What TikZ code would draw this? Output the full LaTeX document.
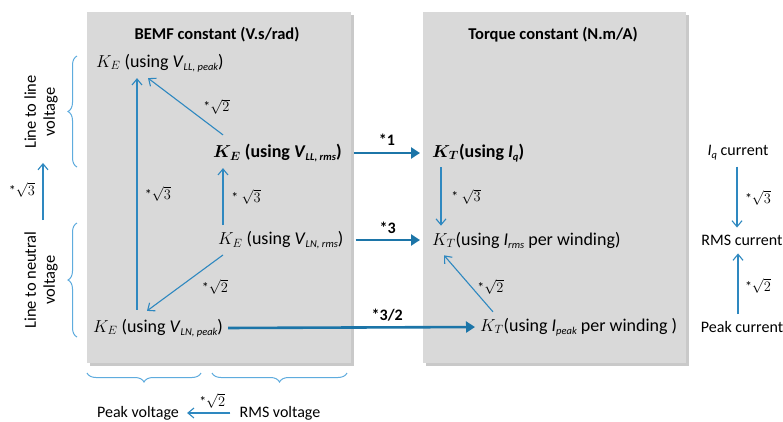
\documentclass[tikz,border=0pt]{standalone}
\usepackage{fontspec}
\setmainfont{Carlito}
\usetikzlibrary{arrows.meta,shadows,decorations.pathreplacing,calc}
\definecolor{thinblue}{RGB}{46,136,192}
\definecolor{thickblue}{RGB}{28,117,168}
\definecolor{bracecol}{RGB}{95,172,222}
\definecolor{boxgray}{RGB}{217,217,217}
\newcommand{\lowsub}[1]{\raisebox{-0.35ex}{\fontsize{10.5}{12}\selectfont\itshape #1}}
\begin{document}
\begin{tikzpicture}[x=1pt,y=-1pt,
  panel/.style={fill=boxgray,draw=none,drop shadow={shadow xshift=2.5pt,shadow yshift=-2.5pt,opacity=0.35,fill=black!60}},
  ttl/.style={font=\fontsize{16.5}{19}\selectfont\bfseries},
  term/.style={font=\fontsize{18}{21}\selectfont,inner sep=1pt,anchor=west},
  side/.style={font=\fontsize{16}{18}\selectfont,inner sep=1pt},
  lside/.style={font=\fontsize{16.5}{19}\selectfont,inner sep=1pt,rotate=90,align=center},
  lbl/.style={font=\fontsize{14}{16}\selectfont,inner sep=1pt},
  blbl/.style={font=\fontsize{16}{18}\selectfont\bfseries,inner sep=1pt},
  thinarr/.style={draw=thinblue,line width=1.1pt,-{Straight Barb[length=6pt,width=10pt]}},
  thickarr/.style={draw=thickblue,line width=2.6pt,-{Triangle[length=9pt,width=11pt]}},
  brc/.style={draw=bracecol,line width=1pt,decorate,decoration={brace,amplitude=9pt}}]
\useasboundingbox (0,0) rectangle (783,421);
\fill[white] (0,0) rectangle (783,421);
\coordinate (xa) at (737,0);
\coordinate (xb) at (738,0);
\coordinate (xc) at (43,0);
% panels
\path[panel] (87,12) rectangle (351,363);
\path[panel] (423,12) rectangle (686,363);
\node[ttl] (t1) at (217,35) {BEMF constant (V.s/rad)};
\node[ttl] (t2) at (553,35) {Torque constant (N.m/A)};
% BEMF terms
\node[term] (kellp) at (95,63) {$K_E$ (using \textit{V}\lowsub{LL, peak})};
\node[term] (kellr) at (212,153) {\bfseries{\boldmath$K_E$} (using \textit{V}\lowsub{LL, rms})};
\node[term] (kelnr) at (217,240) {$K_E$ (using \textit{V}\lowsub{LN, rms})};
\node[term] (kelnp) at (92,328) {$K_E$ (using \textit{V}\lowsub{LN, peak})};
% torque terms
\node[term] (ktq) at (431,153) {\bfseries{\boldmath$K_T$}(using \textit{I}\lowsub{q})};
\node[term] (ktr) at (431,240) {$K_T$(using \textit{I}\lowsub{rms} per winding)};
\node[term] (ktp) at (479,327) {$K_T$(using \textit{I}\lowsub{peak} per winding )};
% currents
\node[side] (iq) at (738,153) {\textit{I}\lowsub{q} current};
\node[side] (rmsc) at (742,240) {RMS current};
\node[side] (pkc) at (742,327) {Peak current};
% voltages bottom
\node[side] (pkv) at (138,413) {Peak voltage};
\node[side] (rmsv) at (280,413) {RMS voltage};
% left side texts
\node[lside] (llv) at (41,112) {Line to line\\voltage};
\node[lside] (lnv) at (41,280) {Line to neutral\\voltage};
% arrows inside BEMF box
\draw[thinarr] ($(kelnp.north west)+(45,-8)$) -- ($(kellp.south west)+(42,5)$)
  node[lbl,midway,xshift=21pt] {*$\sqrt{3}$};
\draw[thinarr] ($(kellr.north west)+(11,-8)$) -- ($(kellp.south west)+(53,5)$)
  node[lbl,midway,xshift=31pt] {*$\sqrt{2}$};
\draw[thinarr] ($(kelnr.north west)+(6,-5)$) -- ($(kellr.south west)+(11,5)$)
  node[lbl,midway,xshift=23pt] {* $\sqrt{3}$};
\draw[thinarr] ($(kelnr.south west)+(6,5)$) -- ($(kelnp.north west)+(55,-7)$)
  node[lbl,midway,xshift=30pt,yshift=-4pt] {*$\sqrt{2}$};
% thick arrows between panels
\draw[thickarr,shorten <=11pt,shorten >=11pt] (kellr.east) -- (ktq.west)
  node[blbl,midway,yshift=13pt] {*1};
\draw[thickarr,shorten <=11pt,shorten >=11pt] (kelnr.east) -- (ktr.west)
  node[blbl,midway,yshift=12pt] {*3};
\draw[thickarr,shorten <=4pt,shorten >=4pt] (kelnp.east) -- (ktp.west)
  node[blbl,pos=0.64,yshift=12pt] {*3/2};
% arrows inside torque box
\draw[thinarr] ($(ktq.south west)+(10,4)$) -- ($(ktr.north west)+(10,-5)$)
  node[lbl,midway,xshift=25pt] {* $\sqrt{3}$};
\draw[thinarr] ($(ktp.north west)+(14,-5)$) -- ($(ktr.south west)+(13,6)$)
  node[lbl,midway,xshift=22pt,yshift=-3pt] {*$\sqrt{2}$};
% current arrows
\draw[thinarr,shorten <=5pt,shorten >=6pt] (iq.south -| xa) -- (rmsc.north -| xa)
  node[lbl,midway,xshift=21pt] {*$\sqrt{3}$};
\draw[thinarr,shorten <=6pt,shorten >=7pt] (pkc.north -| xb) -- (rmsc.south -| xb)
  node[lbl,midway,xshift=20pt,yshift=-3pt] {*$\sqrt{2}$};
% voltage arrow
\draw[thinarr,shorten <=8pt,shorten >=7pt] (rmsv.west) -- (pkv.east)
  node[lbl,midway,xshift=3pt,yshift=12pt] {*$\sqrt{2}$};
% left arrow
\draw[thinarr,shorten <=10pt,shorten >=13pt] (lnv.east -| xc) -- (llv.west -| xc)
  node[lbl,midway,xshift=-21pt] {*$\sqrt{3}$};
% braces
\draw[brc] (77,167) -- (77,56);
\draw[brc] (77,337) -- (77,223);
\draw[brc] (201,373) -- (87,373);
\draw[brc] (347,373) -- (212,373);
\end{tikzpicture}
\end{document}
